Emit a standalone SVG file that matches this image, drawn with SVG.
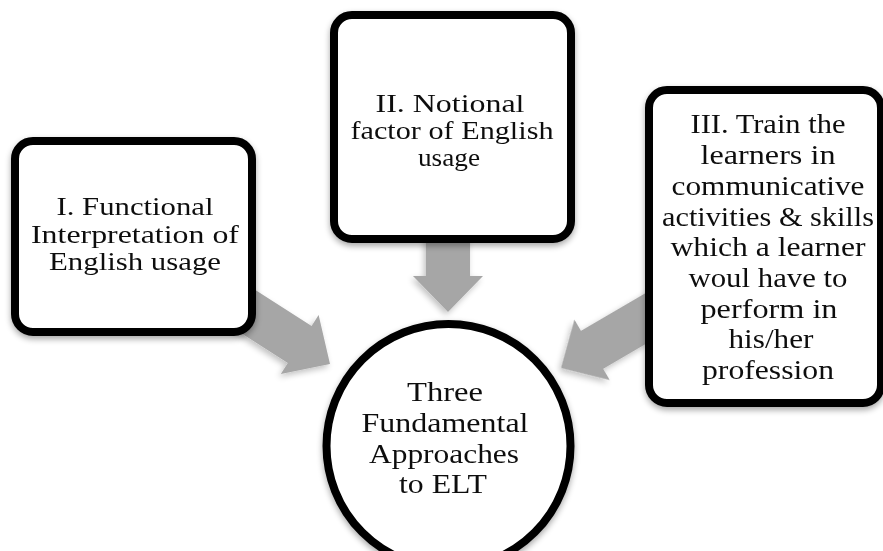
<svg xmlns="http://www.w3.org/2000/svg" width="883" height="551" viewBox="0 0 883 551">
  <defs>
    <filter id="softShadow" x="-20%" y="-20%" width="140%" height="140%">
      <feGaussianBlur in="SourceAlpha" stdDeviation="3"/>
      <feOffset dx="0" dy="3" result="blur"/>
      <feComponentTransfer><feFuncA type="linear" slope="0.35"/></feComponentTransfer>
      <feMerge><feMergeNode/><feMergeNode in="SourceGraphic"/></feMerge>
    </filter>
    <filter id="arrowShadow" x="-30%" y="-30%" width="160%" height="160%">
      <feGaussianBlur in="SourceAlpha" stdDeviation="3"/>
      <feOffset dx="-2" dy="3"/>
      <feComponentTransfer><feFuncA type="linear" slope="0.25"/></feComponentTransfer>
      <feMerge><feMergeNode/><feMergeNode in="SourceGraphic"/></feMerge>
    </filter>
    <!-- block arrow pointing along +x, tip at x=0 -->
    <polygon id="blockArrow" points="-120,-22 -36,-22 -36,-35 0,0 -36,35 -36,22 -120,22"/>
  </defs>
  <style>
    .box { fill: #ffffff; stroke: #000000; stroke-width: 8; }
    .arrow { fill: #a6a6a6; }
    .label { font-family: "Liberation Serif", "Times New Roman", serif; font-size: 28px; fill: #111111; text-anchor: middle; }
    .tight { font-size: 24.5px; }
  </style>

  <rect width="883" height="551" fill="#ffffff"/>

  <!-- connectors: grey block arrows into the centre circle -->
  <g id="connectors" class="arrow" filter="url(#arrowShadow)">
    <use href="#blockArrow" transform="translate(330 364) rotate(32.7)"/>
    <use href="#blockArrow" transform="translate(448 312) rotate(90)"/>
    <use href="#blockArrow" transform="translate(561 368) rotate(149.7)"/>
  </g>

  <g id="node-functional" filter="url(#softShadow)">
    <rect class="box" x="15" y="141" width="237" height="191" rx="18"/>
    <text class="label tight" x="135" y="215" textLength="157" lengthAdjust="spacingAndGlyphs">I. Functional</text>
    <text class="label tight" x="135" y="242.5" textLength="208" lengthAdjust="spacingAndGlyphs">Interpretation of</text>
    <text class="label tight" x="135" y="270" textLength="172" lengthAdjust="spacingAndGlyphs">English usage</text>
  </g>

  <g id="node-notional" filter="url(#softShadow)">
    <rect class="box" x="334" y="15" width="237" height="224" rx="18"/>
    <text class="label tight" x="450" y="112" textLength="149" lengthAdjust="spacingAndGlyphs">II. Notional</text>
    <text class="label tight" x="452" y="138.5" textLength="203" lengthAdjust="spacingAndGlyphs">factor of English</text>
    <text class="label tight" x="449" y="165.5" textLength="62" lengthAdjust="spacingAndGlyphs">usage</text>
  </g>

  <g id="node-communicative" filter="url(#softShadow)">
    <rect class="box" x="649" y="90" width="232" height="313" rx="18"/>
    <text class="label" x="768" y="133" textLength="155" lengthAdjust="spacingAndGlyphs">III. Train the</text>
    <text class="label" x="768" y="164" textLength="135" lengthAdjust="spacingAndGlyphs">learners in</text>
    <text class="label" x="768" y="195" textLength="193" lengthAdjust="spacingAndGlyphs">communicative</text>
    <text class="label" x="768" y="226" textLength="212" lengthAdjust="spacingAndGlyphs">activities &amp; skills</text>
    <text class="label" x="768" y="256" textLength="195" lengthAdjust="spacingAndGlyphs">which a learner</text>
    <text class="label" x="768" y="287" textLength="159" lengthAdjust="spacingAndGlyphs">woul have to</text>
    <text class="label" x="769" y="318" textLength="137" lengthAdjust="spacingAndGlyphs">perform in</text>
    <text class="label" x="771" y="348" textLength="85" lengthAdjust="spacingAndGlyphs">his/her</text>
    <text class="label" x="768" y="379" textLength="132" lengthAdjust="spacingAndGlyphs">profession</text>
  </g>

  <g id="node-center" filter="url(#softShadow)">
    <circle class="box" cx="448.5" cy="446" r="122"/>
    <text class="label" x="445" y="401" textLength="76" lengthAdjust="spacingAndGlyphs">Three</text>
    <text class="label" x="445" y="432" textLength="167" lengthAdjust="spacingAndGlyphs">Fundamental</text>
    <text class="label" x="444" y="463" textLength="150" lengthAdjust="spacingAndGlyphs">Approaches</text>
    <text class="label" x="443" y="493" textLength="88" lengthAdjust="spacingAndGlyphs">to ELT</text>
  </g>
</svg>
